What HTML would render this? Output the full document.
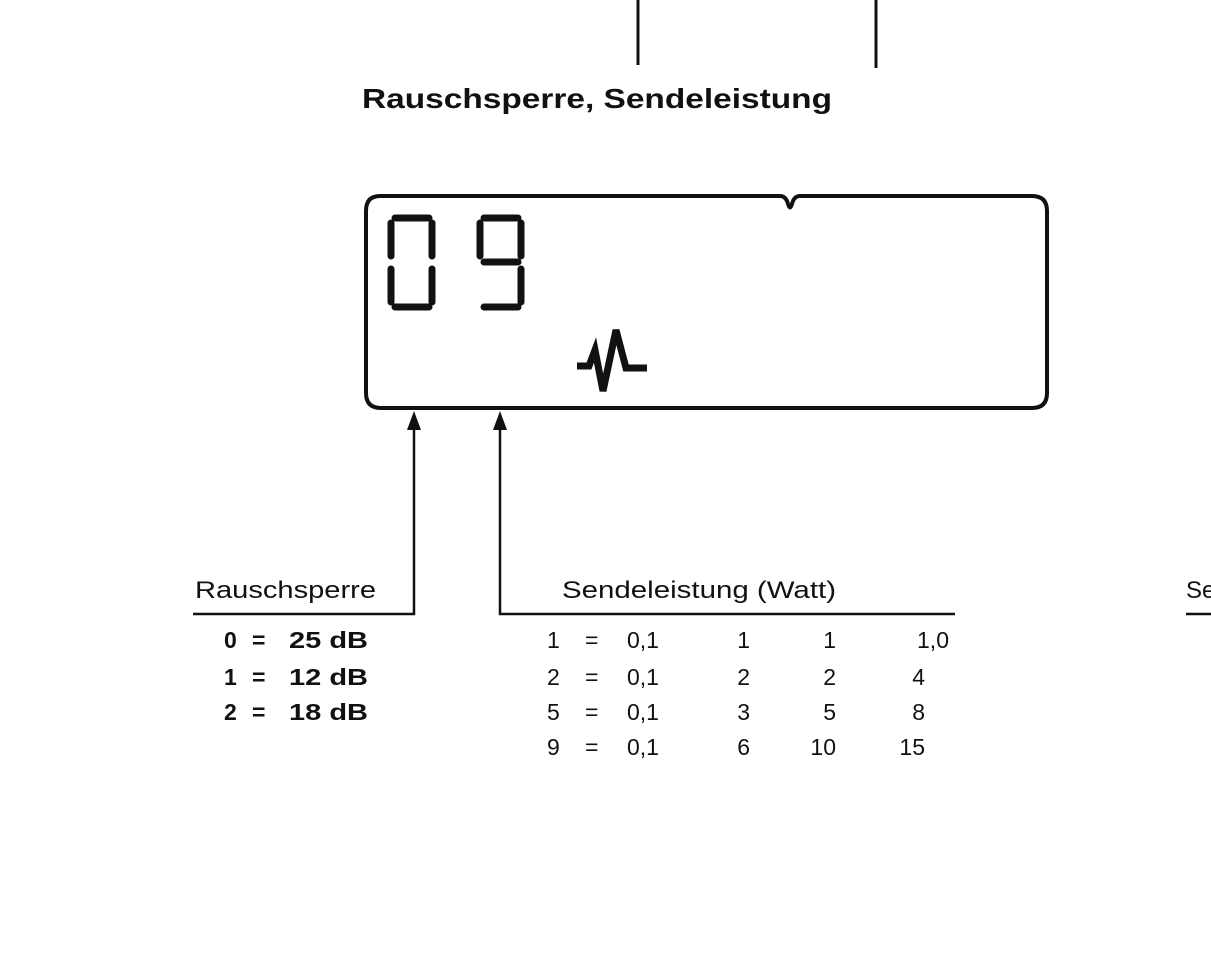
<!DOCTYPE html>
<html><head><meta charset="utf-8"><style>
html,body{margin:0;padding:0;background:#fff;}
svg{display:block;}
text{font-family:"Liberation Sans",Arial,sans-serif;fill:#111;}
</style></head><body>
<svg width="1211" height="956" viewBox="0 0 1211 956" xmlns="http://www.w3.org/2000/svg">
<g stroke="#111" fill="none">
<line x1="638" y1="0" x2="638" y2="65" stroke-width="3"/>
<line x1="876" y1="0" x2="876" y2="68" stroke-width="3"/>
<path d="M380 196 H780 Q786 196 788 204 Q790 211 792 204 Q794 196 800 196 H1032 Q1047 196 1047 211 V393 Q1047 408 1032 408 H381 Q366 408 366 393 V211 Q366 196 380 196 Z" stroke-width="4"/>
</g>
<g stroke="#111" stroke-width="7" stroke-linecap="round" fill="none">
<line x1="395" y1="218" x2="429" y2="218"/>
<line x1="391" y1="223" x2="391" y2="256"/>
<line x1="432" y1="223" x2="432" y2="256"/>
<line x1="391" y1="269" x2="391" y2="302"/>
<line x1="432" y1="269" x2="432" y2="302"/>
<line x1="395" y1="307" x2="429" y2="307"/>
<line x1="484" y1="218" x2="518" y2="218"/>
<line x1="480" y1="223" x2="480" y2="256"/>
<line x1="521" y1="223" x2="521" y2="256"/>
<line x1="484" y1="262" x2="518" y2="262"/>
<line x1="521" y1="269" x2="521" y2="302"/>
<line x1="484" y1="307" x2="518" y2="307"/>
</g>
<path d="M577 366 L589 366 L595 350 L603 391 L616 330 L626 368 L647 368" stroke="#111" stroke-width="7" fill="none" stroke-linejoin="miter"/>
<g stroke="#111" stroke-width="2.5" fill="none">
<polyline points="414,425 414,614 193,614"/>
<polyline points="500,425 500,614 955,614"/>
<line x1="1186" y1="614" x2="1211" y2="614"/>
</g>
<polygon points="414,411 407,430 421,430" fill="#111"/>
<polygon points="500,411 493,430 507,430" fill="#111"/>
<text x="362" y="108" font-size="28" font-weight="bold" textLength="470" lengthAdjust="spacingAndGlyphs">Rauschsperre, Sendeleistung</text>
<text x="195" y="598" font-size="24" textLength="181" lengthAdjust="spacingAndGlyphs">Rauschsperre</text>
<text x="562" y="598" font-size="24" textLength="274" lengthAdjust="spacingAndGlyphs">Sendeleistung (Watt)</text>
<text x="1186" y="598" font-size="24">Se</text>
<g font-size="23" font-weight="bold">
<text x="224" y="648">0</text><text x="252" y="648">=</text><text x="289" y="648" textLength="79" lengthAdjust="spacingAndGlyphs">25 dB</text>
<text x="224" y="685">1</text><text x="252" y="685">=</text><text x="289" y="685" textLength="79" lengthAdjust="spacingAndGlyphs">12 dB</text>
<text x="224" y="720">2</text><text x="252" y="720">=</text><text x="289" y="720" textLength="79" lengthAdjust="spacingAndGlyphs">18 dB</text>
</g>
<g font-size="23">
<text x="547" y="648">1</text><text x="585" y="648">=</text><text x="627" y="648">0,1</text><text x="750" y="648" text-anchor="end">1</text><text x="836" y="648" text-anchor="end">1</text><text x="949" y="648" text-anchor="end">1,0</text>
<text x="547" y="685">2</text><text x="585" y="685">=</text><text x="627" y="685">0,1</text><text x="750" y="685" text-anchor="end">2</text><text x="836" y="685" text-anchor="end">2</text><text x="925" y="685" text-anchor="end">4</text>
<text x="547" y="720">5</text><text x="585" y="720">=</text><text x="627" y="720">0,1</text><text x="750" y="720" text-anchor="end">3</text><text x="836" y="720" text-anchor="end">5</text><text x="925" y="720" text-anchor="end">8</text>
<text x="547" y="755">9</text><text x="585" y="755">=</text><text x="627" y="755">0,1</text><text x="750" y="755" text-anchor="end">6</text><text x="836" y="755" text-anchor="end">10</text><text x="925" y="755" text-anchor="end">15</text>
</g>
</svg>
</body></html>
